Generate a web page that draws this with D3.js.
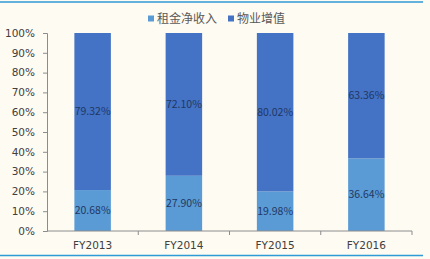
<!DOCTYPE html>
<html>
<head>
<meta charset="utf-8">
<script src="https://cdn.jsdelivr.net/npm/d3@7"></script>
<style>
  body { margin: 0; background: #fefbf2; }
  svg { display: block; font-family: "Noto Sans CJK SC", "DejaVu Sans", sans-serif; }
</style>
</head>
<body>
<div id="chart"></div>
<script>
var years = ["FY2013", "FY2014", "FY2015", "FY2016"];
var rentIncome = [20.68, 27.90, 19.98, 36.64];
var valueGain = [79.32, 72.10, 80.02, 63.36];
var seriesNames = ["租金净收入", "物业增值"];
var seriesColors = ["#5b9bd5", "#4472c4"];
var yTicks = [0, 10, 20, 30, 40, 50, 60, 70, 80, 90, 100];

var W = 430, H = 259;
var margin = {top: 33, right: 18, bottom: 28, left: 47};
var inW = W - margin.left - margin.right;
var inH = H - margin.top - margin.bottom;

var svg = d3.select("#chart").append("svg")
  .attr("width", W).attr("height", H);

svg.append("rect").attr("width", W).attr("height", H).attr("fill", "#fefbf2");

// frame lines top and bottom
svg.append("line").attr("x1", 0).attr("x2", 423).attr("y1", 2).attr("y2", 2)
  .attr("stroke", "#2e9ad6").attr("stroke-width", 1.5);
svg.append("line").attr("x1", 0).attr("x2", 423).attr("y1", 255.5).attr("y2", 255.5)
  .attr("stroke", "#2e9ad6").attr("stroke-width", 1.5);

var g = svg.append("g").attr("transform", "translate(" + margin.left + "," + margin.top + ")");

var x = d3.scaleBand().domain(years).range([0, inW]).paddingInner(0.6).paddingOuter(0.3);
var xBound = d3.scaleLinear().domain([0, years.length]).range([0, inW]);
var y = d3.scaleLinear().domain([0, 100]).range([inH, 0]);

var rows = years.map(function(d, i) { return {year: d, rent: rentIncome[i], gain: valueGain[i]}; });
var stack = d3.stack().keys(["rent", "gain"])(rows);

g.selectAll(".series").data(stack).enter()
  .append("g").attr("fill", function(d, i) { return seriesColors[i]; })
  .selectAll("rect").data(function(d) { return d; }).enter()
  .append("rect")
  .attr("x", function(d) { return x(d.data.year); })
  .attr("width", x.bandwidth())
  .attr("y", function(d) { return y(d[1]); })
  .attr("height", function(d) { return y(d[0]) - y(d[1]); });

// value labels
g.selectAll(".series-label").data(stack).enter()
  .append("g")
  .selectAll("text").data(function(d) { return d; }).enter()
  .append("text")
  .attr("x", function(d) { return x(d.data.year) + x.bandwidth() / 2; })
  .attr("y", function(d) { return (y(d[0]) + y(d[1])) / 2; })
  .attr("dy", "0.35em")
  .attr("text-anchor", "middle")
  .attr("fill", "#1f3864")
  .style("font-size", "10.5px")
  .text(function(d) { return (d[1] - d[0]).toFixed(2) + "%"; });

// y axis
var yAxis = g.append("g").call(d3.axisLeft(y).tickValues(yTicks)
  .tickFormat(function(d) { return d + "%"; }).tickSize(4).tickPadding(8));
yAxis.select(".domain").attr("stroke", "#8c8c8c");
yAxis.selectAll(".tick line").attr("stroke", "#8c8c8c");
yAxis.selectAll("text").attr("fill", "#404040").style("font-size", "10.5px")
  .style("font-family", "'DejaVu Sans', sans-serif");

// x axis
var xAxis = g.append("g").attr("transform", "translate(0," + inH + ")");
xAxis.append("line").attr("x1", 0).attr("x2", inW).attr("stroke", "#8c8c8c");
xAxis.selectAll(".tk").data(d3.range(1, years.length + 1)).enter()
  .append("line")
  .attr("x1", function(d) { return xBound(d); }).attr("x2", function(d) { return xBound(d); })
  .attr("y1", 0).attr("y2", 4).attr("stroke", "#8c8c8c");
xAxis.selectAll("text").data(years).enter()
  .append("text")
  .attr("x", function(d) { return x(d) + x.bandwidth() / 2; })
  .attr("y", 18)
  .attr("text-anchor", "middle")
  .attr("fill", "#404040")
  .style("font-size", "10.5px")
  .style("font-family", "'DejaVu Sans', sans-serif")
  .text(function(d) { return d; });

// legend
var legendX = [148, 228];
var legend = svg.append("g").selectAll("g").data(seriesNames).enter()
  .append("g").attr("transform", function(d, i) { return "translate(" + legendX[i] + ",19)"; });
legend.append("rect").attr("x", 0).attr("y", -3.5).attr("width", 6).attr("height", 6)
  .attr("fill", function(d, i) { return seriesColors[i]; });
legend.append("text").attr("x", 9).attr("dy", "0.35em")
  .attr("fill", "#595959").style("font-size", "12px")
  .text(function(d) { return d; });
</script>
</body>
</html>
